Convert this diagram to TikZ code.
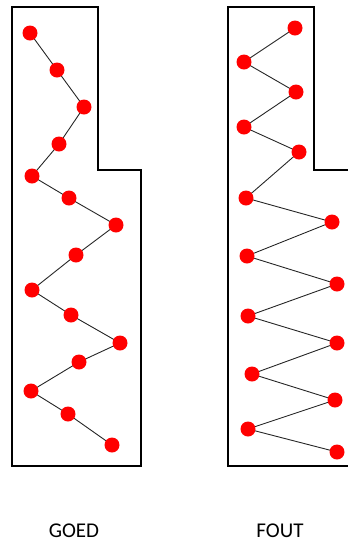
\documentclass[tikz,border=0pt]{standalone}
\usepackage{fontspec}
\setmainfont{Carlito}
\newcommand\lblfont{\fontsize{21pt}{25pt}\selectfont}
\begin{document}
\begin{tikzpicture}[x=1pt,y=-1pt,
  dot/.style={circle,fill=red,inner sep=0pt,minimum size=15pt},
  link/.style={line width=0.9pt,black!85},
  outline/.style={line width=2pt,line join=miter},
  lbl/.style={anchor=base,inner sep=0pt}]
\useasboundingbox (0,0) rectangle (348,542);
% outlines
\draw[outline] (12,7) -- (98,7) -- (98,170) -- (141,170) -- (141,466) -- (12,466) -- cycle;
\draw[outline] (360,170) -- (314,170) -- (314,7) -- (228,7) -- (228,466) -- (360,466);
% left dots
\foreach \n/\x/\y in {1/30/33,2/57/70,3/84/107,4/59/144,5/32/176,6/69/198,7/116/225,8/76/255,9/32/290,10/71/315,11/120/343,12/79/362,13/31/391,14/68/414,15/112/445}
  \coordinate (L\n) at (\x,\y);
\foreach \a/\b in {1/2,2/3,3/4,4/5,5/6,6/7,7/8,8/9,9/10,10/11,11/12,12/13,13/14,14/15}
  \draw[link] (L\a) -- (L\b);
\foreach \n in {1,...,15} \node[dot] (l\n) at (L\n) {};
% right dots
\foreach \n/\x/\y in {1/295/28,2/244/62,3/296/92,4/244/127,5/299/152,6/246/198,7/332/222,8/247/256,9/337/284,10/248/316,11/337/343,12/252/374,13/335/400,14/248/429,15/337/452}
  \coordinate (R\n) at (\x,\y);
\foreach \a/\b in {1/2,2/3,3/4,4/5,5/6,6/7,7/8,8/9,9/10,10/11,11/12,12/13,13/14,14/15}
  \draw[link] (R\a) -- (R\b);
\foreach \n in {1,...,15} \node[dot] (r\n) at (R\n) {};
% labels
\node[lbl] (goed) at (74,537) {\lblfont GOED};
\node[lbl] (fout) at (280,537) {\lblfont FOUT};
\end{tikzpicture}
\end{document}
